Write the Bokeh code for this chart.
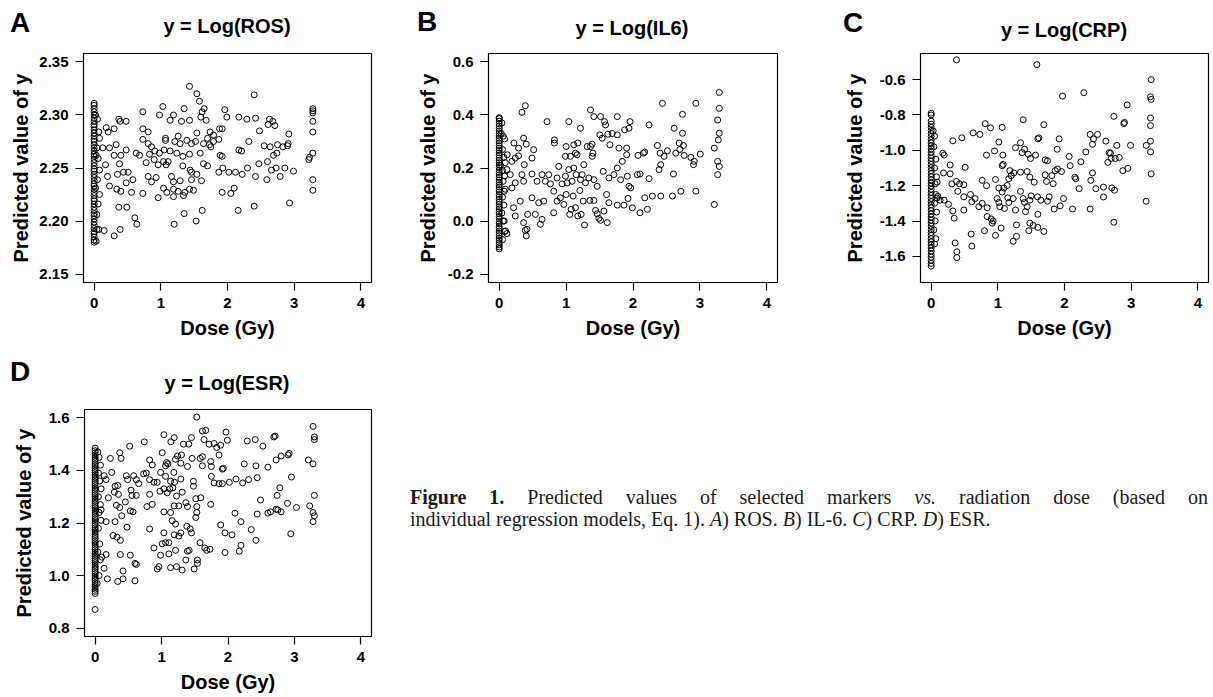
from bokeh.plotting import figure
from bokeh.models import FixedTicker, NumeralTickFormatter, Range1d, Div
from bokeh.layouts import row, column
from bokeh.embed import file_html
from bokeh.resources import INLINE

# ---------------- data (dose in Gy, predicted value of y) ----------------
dose_ticks = [0, 1, 2, 3, 4]

# Panel A: y = Log(ROS)
ros_ticks = [2.15, 2.20, 2.25, 2.30, 2.35]
ros_zero = [2.180, 2.182, 2.185, 2.188, 2.190, 2.193, 2.196, 2.199, 2.202, 2.205, 2.207, 2.210,
            2.213, 2.216, 2.219, 2.221, 2.224, 2.227, 2.230, 2.233, 2.235, 2.238, 2.241, 2.244,
            2.247, 2.249, 2.252, 2.255, 2.258, 2.261, 2.263, 2.266, 2.269, 2.272, 2.275, 2.277,
            2.280, 2.283, 2.286, 2.289, 2.291, 2.294, 2.297, 2.300, 2.303, 2.306, 2.309, 2.311]
ros_points = [
    (0.05, 2.296), (0.07, 2.284), (0.08, 2.278), (0.04, 2.269), (0.06, 2.259), (0.08, 2.248),
    (0.05, 2.239), (0.08, 2.225), (0.06, 2.216), (0.04, 2.206), (0.07, 2.192), (0.03, 2.181),
    (0.02, 2.300), (0.03, 2.262), (0.02, 2.231),
    (0.18, 2.288), (0.21, 2.284), (0.30, 2.287), (0.37, 2.296), (0.39, 2.294), (0.48, 2.294),
    (0.73, 2.303), (0.73, 2.287), (0.81, 2.284), (1.03, 2.308), (0.98, 2.300), (1.14, 2.295),
    (1.19, 2.300), (1.35, 2.306), (1.31, 2.294), (1.43, 2.295), (1.43, 2.327), (1.54, 2.320),
    (1.58, 2.313), (1.62, 2.303), (1.65, 2.306), (1.60, 2.298), (1.68, 2.295), (1.96, 2.305),
    (1.99, 2.298), (2.17, 2.298), (2.29, 2.296), (2.40, 2.319), (2.42, 2.297), (2.63, 2.296),
    (2.68, 2.294), (2.71, 2.290), (2.61, 2.291), (3.28, 2.306), (3.28, 2.304), (3.28, 2.302),
    (3.28, 2.294), (3.28, 2.284), (3.28, 2.264), (3.28, 2.239), (3.28, 2.229), (3.22, 2.258),
    (3.23, 2.260), (1.54, 2.283), (1.74, 2.284), (1.79, 2.281), (1.70, 2.278), (1.88, 2.287),
    (1.92, 2.287), (2.92, 2.282), (2.48, 2.285), (0.33, 2.272), (0.23, 2.269), (0.73, 2.277),
    (0.81, 2.273), (0.86, 2.270), (1.07, 2.278), (1.07, 2.276), (1.21, 2.275), (1.26, 2.280),
    (1.29, 2.273), (1.39, 2.276), (1.46, 2.273), (1.52, 2.275), (1.64, 2.273), (1.73, 2.272),
    (1.79, 2.275), (1.87, 2.277), (1.75, 2.270), (2.32, 2.275), (2.55, 2.271), (2.64, 2.270),
    (2.75, 2.272), (2.83, 2.270), (2.91, 2.273), (2.90, 2.271), (0.13, 2.269), (0.30, 2.262),
    (0.40, 2.262), (0.48, 2.267), (0.63, 2.264), (0.68, 2.262), (0.83, 2.263), (0.91, 2.266),
    (0.98, 2.264), (1.05, 2.267), (1.14, 2.266), (1.24, 2.264), (1.33, 2.261), (1.43, 2.263),
    (1.59, 2.264), (1.89, 2.262), (1.92, 2.261), (2.17, 2.267), (2.21, 2.266), (2.69, 2.262),
    (2.74, 2.264), (0.17, 2.253), (0.38, 2.254), (0.44, 2.246), (0.51, 2.246), (0.78, 2.255),
    (0.90, 2.258), (0.96, 2.253), (1.04, 2.256), (1.08, 2.253), (1.11, 2.256), (1.33, 2.252),
    (1.44, 2.248), (1.46, 2.246), (1.54, 2.244), (1.64, 2.254), (1.70, 2.252), (1.87, 2.246),
    (1.93, 2.250), (2.02, 2.246), (2.12, 2.246), (2.30, 2.250), (2.47, 2.254), (2.60, 2.256),
    (2.66, 2.248), (2.73, 2.250), (2.86, 2.250), (2.99, 2.247), (0.20, 2.242), (0.35, 2.244),
    (0.58, 2.239), (0.81, 2.242), (0.86, 2.237), (0.93, 2.241), (1.16, 2.242), (1.19, 2.237),
    (1.29, 2.238), (1.46, 2.239), (1.61, 2.238), (2.22, 2.244), (2.42, 2.242), (2.59, 2.239),
    (2.79, 2.242), (0.23, 2.233), (0.34, 2.230), (0.40, 2.228), (0.48, 2.236), (0.56, 2.227),
    (0.73, 2.226), (1.04, 2.231), (1.09, 2.227), (1.19, 2.230), (1.26, 2.228), (1.36, 2.227),
    (1.43, 2.230), (1.49, 2.229), (0.96, 2.222), (1.19, 2.223), (1.34, 2.224), (1.92, 2.227),
    (2.05, 2.226), (2.10, 2.231), (0.37, 2.213), (0.49, 2.213), (0.61, 2.203), (0.64, 2.197),
    (0.15, 2.191), (0.04, 2.192), (0.30, 2.186), (0.39, 2.192), (1.20, 2.197), (1.35, 2.207),
    (1.53, 2.200), (1.62, 2.210), (2.16, 2.210), (2.40, 2.214), (2.93, 2.217)]

# Panel B: y = Log(IL6)
il6_ticks = [-0.2, 0.0, 0.2, 0.4, 0.6]
il6_zero = [-0.105, -0.098, -0.090, -0.082, -0.073, -0.065, -0.055, -0.046, -0.038, -0.028,
            -0.020, -0.010, -0.002, 0.008, 0.017, 0.027, 0.035, 0.045, 0.054, 0.063, 0.072,
            0.082, 0.091, 0.100, 0.110, 0.118, 0.128, 0.137, 0.146, 0.155, 0.165, 0.174, 0.183,
            0.192, 0.202, 0.211, 0.220, 0.229, 0.238, 0.248, 0.257, 0.266, 0.275, 0.284, 0.294,
            0.303, 0.312, 0.321, 0.330, 0.340, 0.349, 0.358, 0.367, 0.377, 0.386, 0.390]
il6_points = [
    (0.04, 0.37), (0.06, 0.32), (0.08, 0.31), (0.05, 0.27), (0.07, 0.24), (0.09, 0.22),
    (0.05, 0.19), (0.08, 0.17), (0.06, 0.15), (0.09, 0.12), (0.05, 0.09), (0.07, 0.06),
    (0.04, 0.03), (0.06, 0.0), (0.08, -0.04), (0.05, -0.07), (0.03, 0.33), (0.02, 0.21),
    (0.34, 0.41), (0.39, 0.435), (0.22, 0.294), (0.29, 0.275), (0.365, 0.3125), (0.405, 0.29),
    (0.515, 0.269), (0.12, 0.25), (0.19, 0.225), (0.24, 0.2375), (0.29, 0.246), (0.375, 0.2125),
    (0.49, 0.2375), (0.715, 0.375), (0.825, 0.306), (0.825, 0.294), (1.04, 0.375), (1.0, 0.281),
    (0.99, 0.244), (1.065, 0.244), (1.115, 0.2875), (1.14, 0.256), (1.165, 0.25), (1.215, 0.35),
    (1.175, 0.294), (1.365, 0.419), (1.415, 0.394), (1.365, 0.281), (1.39, 0.29), (1.315, 0.281),
    (1.39, 0.244), (1.40, 0.256), (1.515, 0.394), (1.575, 0.375), (1.59, 0.3625), (1.505, 0.325),
    (1.54, 0.3125), (1.625, 0.3275), (1.69, 0.33), (1.765, 0.394), (1.765, 0.325), (1.655, 0.2875),
    (1.79, 0.275), (1.94, 0.35), (1.955, 0.375), (1.875, 0.344), (1.905, 0.275), (1.905, 0.25),
    (2.24, 0.3625), (2.44, 0.444), (2.365, 0.285), (2.405, 0.256), (2.465, 0.244), (2.515, 0.265),
    (2.415, 0.2125), (2.39, 0.194), (2.615, 0.35), (2.74, 0.4025), (2.74, 0.331), (2.69, 0.294),
    (2.755, 0.285), (2.64, 0.256), (2.70, 0.27), (2.765, 0.2475), (2.865, 0.24), (2.905, 0.2125),
    (3.005, 0.2525), (2.94, 0.444), (3.29, 0.485), (3.29, 0.425), (3.265, 0.381), (3.29, 0.331),
    (3.275, 0.306), (3.215, 0.275), (3.265, 0.225), (3.29, 0.206), (3.265, 0.175), (3.215, 0.0625),
    (0.115, 0.194), (0.165, 0.175), (0.24, 0.144), (0.34, 0.175), (0.365, 0.15), (0.49, 0.1775),
    (0.565, 0.15), (0.64, 0.175), (0.69, 0.15), (0.74, 0.175), (0.765, 0.14), (0.865, 0.1625),
    (0.89, 0.206), (0.94, 0.14), (0.99, 0.169), (1.015, 0.144), (1.04, 0.194), (1.09, 0.15),
    (1.115, 0.20), (1.15, 0.175), (1.215, 0.156), (1.24, 0.175), (1.265, 0.2125), (1.29, 0.144),
    (1.34, 0.1625), (1.415, 0.156), (1.465, 0.131), (1.555, 0.1875), (1.64, 0.1625), (1.715, 0.175),
    (1.765, 0.20), (1.815, 0.156), (1.84, 0.225), (1.915, 0.169), (1.94, 0.131), (1.965, 0.125),
    (2.065, 0.175), (2.105, 0.1775), (2.24, 0.16), (2.155, 0.256), (2.175, 0.26), (2.075, 0.2475),
    (2.605, 0.1775), (2.915, 0.225), (0.075, 0.1125), (0.19, 0.125), (0.215, 0.05), (0.24, 0.019),
    (0.315, 0.075), (0.365, -0.006), (0.39, -0.035), (0.405, -0.056), (0.415, -0.031), (0.425, 0.025),
    (0.49, 0.0875), (0.54, 0.025), (0.59, 0.069), (0.615, -0.0125), (0.64, 0.006), (0.665, 0.075),
    (0.815, 0.1125), (0.815, 0.031), (0.865, 0.075), (0.915, 0.0875), (0.965, 0.0625), (1.0, 0.10),
    (1.055, 0.025), (1.075, 0.044), (1.105, 0.094), (1.14, 0.05), (1.175, 0.019), (1.205, 0.115),
    (1.225, 0.025), (1.255, 0.075), (1.275, -0.015), (1.355, 0.0775), (1.415, 0.0775), (1.44, 0.04),
    (1.465, 0.0275), (1.49, 0.01), (1.515, 0.0025), (1.565, 0.0375), (1.605, 0.10), (1.615, -0.006),
    (1.64, 0.069), (1.765, 0.06), (1.865, 0.06), (1.925, 0.085), (1.99, 0.05), (2.105, 0.031),
    (2.175, 0.0875), (2.215, 0.044), (2.29, 0.094), (2.415, 0.094), (2.59, 0.094), (2.715, 0.1125),
    (2.94, 0.1125), (0.095, -0.0375), (0.115, -0.0475), (0.075, 0.0)]

# Panel C: y = Log(CRP)
crp_ticks = [-1.6, -1.4, -1.2, -1.0, -0.8, -0.6]
crp_zero = [-1.655, -1.640, -1.622, -1.605, -1.588, -1.570, -1.552, -1.535, -1.518, -1.500,
            -1.482, -1.465, -1.448, -1.430, -1.412, -1.395, -1.378, -1.360, -1.342, -1.325,
            -1.308, -1.290, -1.272, -1.255, -1.238, -1.220, -1.202, -1.185, -1.168, -1.150,
            -1.132, -1.115, -1.098, -1.080, -1.062, -1.045, -1.028, -1.010, -0.992, -0.975,
            -0.958, -0.940, -0.922, -0.905, -0.888, -0.870, -0.852, -0.835, -0.800, -0.790]
crp_points = [
    (0.03, -0.89), (0.05, -0.92), (0.04, -0.98), (0.07, -1.05), (0.05, -1.10), (0.08, -1.15),
    (0.06, -1.19), (0.07, -1.25), (0.09, -1.27), (0.05, -1.30), (0.08, -1.35), (0.06, -1.40),
    (0.04, -1.45), (0.07, -1.50), (0.05, -1.53), (0.10, -1.26), (0.09, -1.18),
    (0.38, -0.488), (1.585, -0.515), (3.30, -0.60), (3.29, -0.697), (3.30, -0.712), (2.29, -0.674),
    (1.97, -0.693), (2.94, -0.743), (2.74, -0.808), (2.89, -0.849), (2.90, -0.842), (3.29, -0.817),
    (3.29, -0.860), (3.29, -0.948), (3.29, -1.009), (3.30, -1.133), (3.225, -0.972), (3.225, -1.288),
    (2.99, -0.972), (0.81, -0.849), (0.89, -0.873), (1.065, -0.870), (1.38, -0.827), (1.69, -0.855),
    (1.015, -0.953), (0.63, -0.901), (0.73, -0.910), (0.325, -0.946), (0.46, -0.929), (0.95, -1.003),
    (0.83, -1.027), (1.075, -1.027), (1.265, -0.985), (1.34, -0.957), (1.365, -1.013), (1.40, -0.994),
    (1.455, -1.022), (1.49, -1.046), (1.565, -1.027), (1.60, -0.935), (1.615, -0.929), (1.71, -1.054),
    (1.745, -1.059), (1.92, -0.935), (1.89, -0.994), (2.07, -1.035), (2.245, -1.065), (2.32, -1.009),
    (2.385, -0.910), (2.435, -0.935), (2.495, -0.910), (2.42, -0.966), (2.62, -0.948), (2.785, -0.972),
    (2.67, -1.013), (2.69, -1.016), (2.65, -1.068), (2.70, -1.046), (2.76, -1.046), (2.82, -1.040),
    (2.875, -1.115), (2.95, -1.102), (0.175, -1.016), (0.195, -1.027), (0.285, -1.083), (0.51, -1.096),
    (0.185, -1.128), (0.285, -1.133), (0.31, -1.190), (0.38, -1.176), (0.425, -1.190), (0.49, -1.195),
    (0.40, -1.232), (0.49, -1.263), (0.59, -1.250), (0.765, -1.170), (0.83, -1.200), (0.965, -1.165),
    (1.015, -1.213), (1.09, -1.213), (1.14, -1.199), (1.165, -1.161), (1.20, -1.143), (1.18, -1.115),
    (1.24, -1.128), (1.34, -1.124), (1.44, -1.120), (1.48, -1.152), (1.545, -1.180), (1.065, -1.087),
    (1.08, -1.080), (1.71, -1.139), (1.73, -1.176), (1.81, -1.143), (1.83, -1.189), (1.86, -1.115),
    (1.895, -1.106), (1.955, -1.120), (2.085, -1.087), (2.155, -1.152), (2.17, -1.161), (2.22, -1.217),
    (2.42, -1.128), (2.395, -1.170), (2.47, -1.217), (2.585, -1.208), (2.71, -1.213), (2.75, -1.226),
    (2.585, -1.264), (0.135, -1.282), (0.195, -1.282), (0.26, -1.306), (0.325, -1.343), (0.345, -1.384),
    (0.49, -1.338), (0.61, -1.291), (0.66, -1.273), (0.715, -1.319), (0.765, -1.300), (0.84, -1.325),
    (0.84, -1.375), (0.90, -1.388), (0.915, -1.412), (0.93, -1.400), (0.99, -1.273), (1.015, -1.295),
    (1.03, -1.319), (1.065, -1.236), (1.10, -1.329), (1.15, -1.269), (1.165, -1.295), (1.23, -1.273),
    (1.265, -1.338), (1.34, -1.232), (1.38, -1.273), (1.40, -1.295), (1.415, -1.347), (1.44, -1.319),
    (1.48, -1.282), (1.50, -1.258), (1.595, -1.263), (1.60, -1.362), (1.645, -1.282), (1.77, -1.263),
    (1.745, -1.288), (1.845, -1.332), (1.935, -1.314), (1.985, -1.273), (2.12, -1.332), (2.385, -1.332),
    (2.74, -1.407), (0.36, -1.524), (0.385, -1.574), (0.385, -1.607), (0.61, -1.542), (0.60, -1.474),
    (0.80, -1.455), (0.965, -1.481), (1.05, -1.440), (1.23, -1.515), (1.28, -1.487), (1.28, -1.422),
    (1.465, -1.455), (1.48, -1.412), (1.53, -1.425), (1.60, -1.436), (1.69, -1.459)]

# Panel D: y = Log(ESR)
esr_ticks = [0.8, 1.0, 1.2, 1.4, 1.6]
esr_zero = [0.871, 0.932, 0.940, 0.948, 0.957, 0.965, 0.973, 0.982, 0.990, 0.998, 1.007, 1.015,
            1.024, 1.032, 1.040, 1.049, 1.057, 1.065, 1.074, 1.082, 1.090, 1.099, 1.107, 1.116,
            1.124, 1.132, 1.141, 1.149, 1.157, 1.166, 1.174, 1.182, 1.191, 1.199, 1.208, 1.216,
            1.224, 1.233, 1.241, 1.249, 1.258, 1.266, 1.275, 1.283, 1.291, 1.300, 1.308, 1.316,
            1.325, 1.333, 1.342, 1.350, 1.358, 1.367, 1.375, 1.383, 1.392, 1.400, 1.408, 1.417,
            1.425, 1.434, 1.442, 1.450, 1.459, 1.467, 1.475, 1.485]
esr_points = [
    (0.04, 1.47), (0.06, 1.45), (0.08, 1.42), (0.05, 1.39), (0.07, 1.36), (0.09, 1.33),
    (0.05, 1.30), (0.08, 1.27), (0.06, 1.24), (0.09, 1.21), (0.05, 1.18), (0.07, 1.12),
    (0.04, 1.09), (0.08, 1.06), (0.06, 1.00), (0.03, 0.97), (0.10, 1.07), (0.09, 1.25),
    (1.53, 1.603), (1.035, 1.536), (1.19, 1.525), (1.14, 1.509), (1.33, 1.500), (1.41, 1.500),
    (1.45, 1.525), (1.615, 1.550), (1.665, 1.5525), (1.64, 1.5175), (1.715, 1.500), (1.79, 1.5025),
    (1.83, 1.4875), (1.865, 1.459), (1.89, 1.496), (1.97, 1.546), (1.99, 1.515), (2.29, 1.5125),
    (2.41, 1.5175), (2.525, 1.4925), (2.69, 1.5275), (2.71, 1.531), (3.28, 1.5675), (3.30, 1.5275),
    (3.30, 1.5175), (3.28, 1.425), (3.21, 1.440), (0.74, 1.509), (0.52, 1.4925), (0.37, 1.4675),
    (0.39, 1.446), (0.23, 1.446), (0.82, 1.440), (0.86, 1.421), (1.01, 1.4675), (1.075, 1.430),
    (1.06, 1.4175), (1.095, 1.425), (1.24, 1.455), (1.30, 1.459), (1.21, 1.4425), (1.29, 1.4275),
    (1.39, 1.415), (1.46, 1.446), (1.58, 1.446), (1.615, 1.4525), (1.615, 1.4175), (1.74, 1.434),
    (1.75, 1.415), (1.915, 1.405), (1.93, 1.408), (2.245, 1.425), (2.42, 1.4175), (2.60, 1.4125),
    (2.725, 1.440), (2.80, 1.455), (2.905, 1.459), (2.92, 1.465), (0.135, 1.380), (0.165, 1.365),
    (0.25, 1.3925), (0.30, 1.340), (0.34, 1.3425), (0.47, 1.380), (0.49, 1.365), (0.58, 1.380),
    (0.62, 1.365), (0.655, 1.350), (0.73, 1.3875), (0.77, 1.390), (0.82, 1.365), (0.885, 1.355),
    (0.935, 1.355), (0.985, 1.3925), (1.06, 1.3775), (1.135, 1.359), (1.185, 1.3925), (1.195, 1.355),
    (1.29, 1.3675), (1.48, 1.359), (1.48, 1.340), (1.75, 1.3775), (1.79, 1.3525), (1.865, 1.350),
    (1.915, 1.350), (2.02, 1.355), (2.12, 1.3675), (2.22, 1.3525), (2.31, 1.365), (2.44, 1.3725),
    (2.78, 1.334), (2.955, 1.375), (0.20, 1.296), (0.29, 1.3175), (0.35, 1.309), (0.32, 1.2675),
    (0.37, 1.259), (0.455, 1.280), (0.54, 1.325), (0.555, 1.305), (0.62, 1.305), (0.53, 1.246),
    (0.78, 1.2625), (0.82, 1.309), (0.86, 1.271), (0.975, 1.321), (1.035, 1.330), (1.085, 1.315),
    (1.125, 1.330), (1.17, 1.334), (1.225, 1.3025), (1.26, 1.265), (1.19, 1.265), (1.31, 1.3175),
    (1.365, 1.2775), (1.39, 1.2625), (1.515, 1.2925), (1.59, 1.296), (1.53, 1.2625), (1.74, 1.271),
    (2.49, 1.2875), (2.74, 1.305), (2.895, 1.275), (3.03, 1.259), (2.725, 1.2525), (2.75, 1.250),
    (2.64, 1.2425), (2.60, 1.2375), (2.80, 1.2425), (3.23, 1.265), (3.30, 1.305), (3.28, 1.240),
    (3.28, 1.205), (3.30, 1.2275), (0.165, 1.205), (0.30, 1.205), (0.40, 1.2275), (0.27, 1.1525),
    (0.33, 1.146), (0.38, 1.134), (0.48, 1.184), (0.57, 1.2425), (0.82, 1.1775), (1.035, 1.2425),
    (1.135, 1.240), (1.16, 1.209), (1.21, 1.196), (1.19, 1.155), (1.29, 1.1625), (1.38, 1.1875),
    (1.43, 1.1775), (1.45, 1.1625), (1.53, 1.240), (1.515, 1.221), (1.89, 1.1925), (1.955, 1.1625),
    (2.06, 1.155), (2.105, 1.2375), (2.195, 1.205), (2.35, 1.175), (2.42, 1.134), (2.44, 1.234),
    (2.945, 1.159), (0.165, 1.080), (0.135, 1.0275), (0.185, 0.9875), (0.34, 0.9775), (0.42, 0.9875),
    (0.42, 1.0175), (0.38, 1.080), (0.53, 1.0775), (0.60, 1.046), (0.62, 1.0425), (0.60, 0.980),
    (0.885, 1.105), (0.935, 1.025), (0.96, 1.034), (0.985, 1.0775), (1.01, 1.121), (1.035, 1.1625),
    (1.06, 1.125), (1.11, 1.125), (1.11, 1.0825), (1.135, 1.030), (1.21, 1.096), (1.225, 1.034),
    (1.26, 1.150), (1.31, 1.021), (1.365, 1.059), (1.39, 1.0925), (1.415, 1.096), (1.49, 1.025),
    (1.54, 1.059), (1.54, 1.046), (1.58, 1.125), (1.65, 1.105), (1.68, 1.096), (1.73, 1.100),
    (1.955, 1.0875), (2.17, 1.0925), (2.195, 1.115)]

panel_letters = ["A", "B", "C", "D"]
panel_titles = ["y = Log(ROS)", "y = Log(IL6)", "y = Log(CRP)", "y = Log(ESR)"]

SANS = "Liberation Sans"


def panel(zero_y, points, yr, yticks, yfmt, fw, fh, bl, br, bt, bb, ylab_standoff):
    xs = [0.0] * len(zero_y) + [pt[0] for pt in points]
    ys = list(zero_y) + [pt[1] for pt in points]
    p = figure(width=bl + fw + br, height=bt + fh + bb,
               x_range=Range1d(-0.16, 4.16), y_range=Range1d(*yr),
               output_backend="svg", toolbar_location=None,
               min_border_left=bl, min_border_right=br,
               min_border_top=bt, min_border_bottom=bb, margin=0)
    p.scatter(xs, ys, marker="circle", size=6, fill_color=None,
              line_color="black", line_width=1)
    p.xgrid.visible = False
    p.ygrid.visible = False
    p.outline_line_color = "black"
    p.outline_line_alpha = 1
    p.outline_line_width = 1.2
    p.background_fill_color = "white"
    p.border_fill_color = "white"
    p.xaxis.ticker = FixedTicker(ticks=dose_ticks)
    p.xaxis.formatter = NumeralTickFormatter(format="0")
    p.yaxis.ticker = FixedTicker(ticks=yticks)
    p.yaxis.formatter = NumeralTickFormatter(format=yfmt)
    p.xaxis.axis_label = "Dose (Gy)"
    p.yaxis.axis_label = "Predicted value of y"
    for ax in (p.xaxis[0], p.yaxis[0]):
        ax.axis_line_color = None
        ax.major_tick_out = 8
        ax.major_tick_in = 0
        ax.minor_tick_out = 0
        ax.minor_tick_in = 0
        ax.major_tick_line_color = "black"
        ax.major_tick_line_width = 1.2
        ax.major_label_text_font = SANS
        ax.major_label_text_font_size = "15px"
        ax.major_label_text_font_style = "bold"
        ax.major_label_text_color = "black"
        ax.major_label_standoff = 7
        ax.axis_label_text_font = SANS
        ax.axis_label_text_font_size = "20px"
        ax.axis_label_text_font_style = "bold"
        ax.axis_label_text_color = "black"
    p.yaxis.axis_label_standoff = ylab_standoff
    p.xaxis.axis_label_standoff = 6
    return p


def span(text, left, top, size, center=False):
    tr = "transform:translateX(-50%);" if center else ""
    return ('<span style="position:absolute;left:%dpx;top:%.1fpx;font-family:\'%s\',sans-serif;'
            'font-weight:bold;font-size:%dpx;line-height:%dpx;white-space:nowrap;color:#000;%s">%s</span>'
            % (left, top, SANS, size, size, tr, text))


def header(items, width, height):
    inner = "".join(items)
    html = ('<div style="position:relative;width:%dpx;height:%dpx;overflow:visible;">%s</div>'
            % (width, height, inner))
    return Div(text=html, width=width, height=height, margin=0)


# top header (letters and titles of panels A, B, C)
hdr1 = header([
    span(panel_letters[0], 10, 9.3, 28), span(panel_titles[0], 227, 16.1, 20, True),
    span(panel_letters[1], 417, 8.3, 28), span(panel_titles[1], 632, 18.1, 20, True),
    span(panel_letters[2], 843, 9.3, 28), span(panel_titles[2], 1064, 20.1, 20, True),
], 1211, 44)

pA = panel(ros_zero, ros_points, (2.142, 2.358), ros_ticks, "0.00",
           288, 232, 83, 37, 6, 70, 4)
pB = panel(il6_zero, il6_points, (-0.232, 0.632), il6_ticks, "0.0",
           289, 231, 80, 31, 8, 69, 6)
pC = panel(crp_zero, crp_points, (-1.748, -0.452), crp_ticks, "0.0",
           288, 232, 112, 3, 9, 67, 11)

hdrD = header([
    span(panel_letters[3], 10, 6.3, 28), span(panel_titles[3], 227, 21.1, 20, True),
], 410, 44)
pD = panel(esr_zero, esr_points, (0.768, 1.632), esr_ticks, "0.0",
           287, 230, 84, 39, 13, 56, 11)

caption_html = (
    '<div style="padding-top:134px;font-family:\'Liberation Serif\',serif;font-size:20px;'
    'line-height:22px;color:#1a1a1a;width:798px;">'
    '<div style="text-align:justify;text-align-last:justify;">'
    '<b>Figure 1.</b> Predicted values of selected markers <i>vs.</i> radiation dose (based on'
    '</div>'
    '<div>individual regression models, Eq. 1). <i>A</i>) ROS. <i>B</i>) IL-6. '
    '<i>C</i>) CRP. <i>D</i>) ESR.</div>'
    '</div>')
caption = Div(text=caption_html, width=801, height=300, margin=0)

layout = column(hdr1, row(pA, pB, pC, margin=0),
                row(column(hdrD, pD, margin=0), caption, margin=0), margin=0)

open("out.html", "w").write(file_html(layout, INLINE))
